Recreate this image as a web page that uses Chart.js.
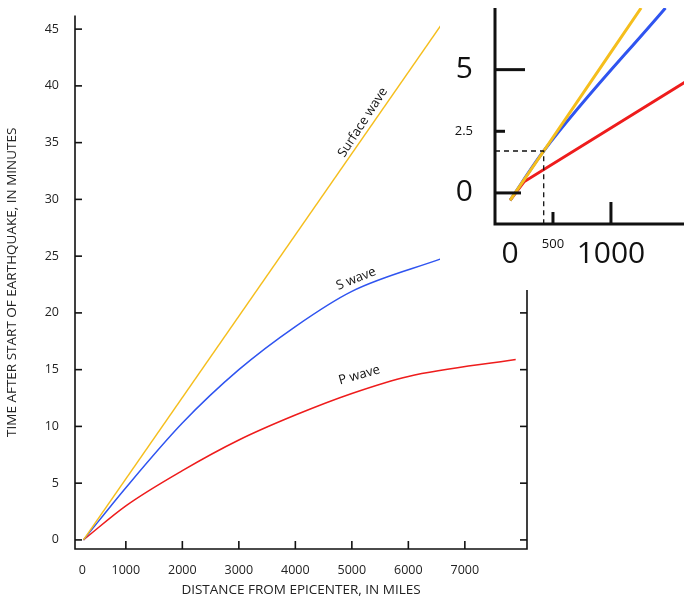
<!DOCTYPE html>
<html><head><meta charset="utf-8">
<script src="https://cdn.jsdelivr.net/npm/chart.js@4"></script>
<style>
body{margin:0;background:#fff;overflow:hidden;}
#wrap{position:relative;width:684px;height:602px;overflow:hidden;}
#main{position:absolute;left:0;top:0;}
#inset{position:absolute;left:440px;top:-24px;background:#fff;}
</style></head>
<body><div id="wrap">
<canvas id="main" width="684" height="602"></canvas>
<canvas id="inset" width="244" height="314"></canvas>
</div>
<script>
// main chart data (miles, minutes)
const surfaceWave = [[250,0],[6600,45.5]];
const sWave = [[250,0],[1000,4.6],[2000,10.3],[3000,15.0],[4000,18.8],[5000,21.9],[6600,24.8]];
const pWave = [[250,0],[1000,3.0],[2000,6.1],[3000,8.8],[4000,11.0],[5000,12.9],[6000,14.4],[7900,15.9]];
const xTicks = [1000,2000,3000,4000,5000,6000,7000];
const xZero = 230;
const yTicks = [0,5,10,15,20,25,30,35,40,45];
const curveLabels = [['Surface wave',5250,36.6,-57],['S wave',5100,22.7,-22],['P wave',5150,14.2,-16]];

// inset data
const insetSurface = [[130,-0.3],[420,1.7],[1260,7.5]];
const insetS = [[130,-0.3],[420,1.7],[1470,7.5]];
const insetP = [[130,-0.3],[250,0.45],[1640,4.5]];
const insetYTicks = [0,2.5,5];
const insetMark = [420,1.7];

const YEL='#f5be1c', BLU='#2f54f0', RED='#ee1c1c';
const pts = a => a.map(p => ({x:p[0], y:p[1]}));
const FONT = "'Liberation Sans Narrow','Open Sans',sans-serif";

function ds(data,color,w,curve){return {data:pts(data),borderColor:color,borderWidth:w,pointRadius:0,fill:false,
  cubicInterpolationMode:curve?'monotone':'default',tension:0};}

// draws axis lines and inward tick marks
const frame = {
  id:'frame',
  afterDraw(c, args, o){
    const ctx=c.ctx, a=c.chartArea, xs=c.scales.x, ys=c.scales.y;
    ctx.save(); ctx.strokeStyle='#111'; ctx.lineWidth=o.lw;
    ctx.beginPath();
    ctx.moveTo(a.left,a.top); ctx.lineTo(a.left,a.bottom); ctx.lineTo(a.right,a.bottom);
    if(o.right) ctx.lineTo(a.right,a.top);
    ctx.stroke();
    o.xt.forEach(t=>{const x=xs.getPixelForValue(t[0]);ctx.beginPath();ctx.moveTo(x,a.bottom);ctx.lineTo(x,a.bottom-t[1]);ctx.stroke();});
    o.yt.forEach(t=>{const y=ys.getPixelForValue(t[0]);ctx.beginPath();ctx.moveTo(a.left,y);ctx.lineTo(a.left+t[1],y);ctx.stroke();
      if(o.right){ctx.beginPath();ctx.moveTo(a.right,y);ctx.lineTo(a.right-t[1],y);ctx.stroke();}});
    if(o.labels) o.labels.forEach(l=>{
      ctx.save(); ctx.translate(xs.getPixelForValue(l[1]),ys.getPixelForValue(l[2])); ctx.rotate(l[3]*Math.PI/180);
      ctx.fillStyle='#111'; ctx.font='13px '+FONT; ctx.textAlign='center'; ctx.fillText(l[0],0,0); ctx.restore();});
    if(o.mark){
      const mx=xs.getPixelForValue(o.mark[0]), my=ys.getPixelForValue(o.mark[1]);
      ctx.setLineDash([5,4]); ctx.lineWidth=1.3;
      ctx.beginPath(); ctx.moveTo(a.left,my); ctx.lineTo(mx,my); ctx.lineTo(mx,a.bottom); ctx.stroke();
    }
    ctx.restore();
  }
};

new Chart(document.getElementById('main'), {
  type:'line',
  data:{datasets:[ds(surfaceWave,YEL,1.5,true),ds(sWave,BLU,1.5,true),ds(pWave,RED,1.5,true)]},
  plugins:[frame],
  options:{
    responsive:false, animation:false,
    layout:{padding:{top:8,right:157,left:0,bottom:0}},
    plugins:{legend:{display:false},tooltip:{enabled:false},
      frame:{lw:1.6,right:true,labels:curveLabels,
        xt:xTicks.map(v=>[v,8]), yt:yTicks.map(v=>[v,7])}},
    scales:{
      x:{type:'linear',min:100,max:8100,
        afterBuildTicks:s=>{s.ticks=[{value:xZero}].concat(xTicks.map(v=>({value:v})));},
        afterFit:s=>{s.height=53;},
        grid:{display:false},border:{display:false},
        ticks:{color:'#222',font:{family:FONT,size:12.5},padding:6,maxRotation:0,
          callback:v=>v===xZero?'0':String(v)},
        title:{display:true,text:'DISTANCE FROM EPICENTER, IN MILES',color:'#222',font:{family:FONT,size:13.5},padding:{top:2}}},
      y:{type:'linear',min:-0.8,max:46.2,
        afterBuildTicks:s=>{s.ticks=yTicks.map(v=>({value:v}));},
        afterFit:s=>{s.width=75;},
        grid:{display:false},border:{display:false},
        ticks:{color:'#222',font:{family:FONT,size:12.5},padding:8,callback:v=>String(v)},
        title:{display:true,text:'TIME AFTER START OF EARTHQUAKE, IN MINUTES',color:'#222',font:{family:FONT,size:13.5},padding:{bottom:6}}}
    }
  }
});

const big = ctx => ({family:"'Open Sans',sans-serif", size:(ctx.tick && (ctx.tick.value===2.5||ctx.tick.value===500))?13:30});
new Chart(document.getElementById('inset'), {
  type:'line',
  data:{datasets:[ds(insetSurface,YEL,3,true),ds(insetS,BLU,3,true),ds(insetP,RED,3,false)]},
  plugins:[frame],
  options:{
    responsive:false, animation:false,
    layout:{padding:{top:8,right:0,left:0,bottom:0}},
    plugins:{legend:{display:false},tooltip:{enabled:false},
      frame:{lw:3,right:false,mark:insetMark,
        xt:[[500,12],[1000,22]], yt:[[0,26],[2.5,10],[5,30]]}},
    scales:{
      x:{type:'linear',min:0,max:1630,
        afterBuildTicks:s=>{s.ticks=[{value:130},{value:500},{value:1000}];},
        afterFit:s=>{s.height=66;},
        grid:{display:false},border:{display:false},
        ticks:{color:'#111',font:big,padding:4,maxRotation:0,
          callback:v=>v===130?'0':String(v)}},
      y:{type:'linear',min:-1.26,max:7.5,
        afterBuildTicks:s=>{s.ticks=insetYTicks.map(v=>({value:v}));},
        afterFit:s=>{s.width=55;},
        grid:{display:false},border:{display:false},
        ticks:{color:'#111',font:big,padding:14,callback:v=>String(v)}}
    }
  }
});
</script></body></html>
